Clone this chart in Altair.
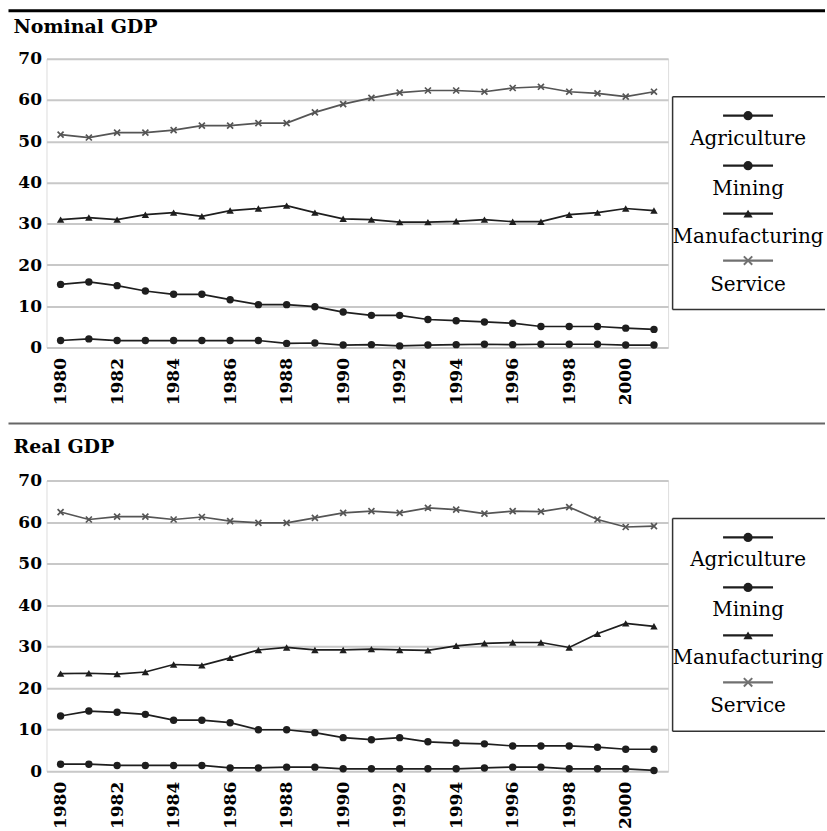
import altair as alt
import pandas as pd

# ---- data: sector shares of GDP (%) ----
years = list(range(1980, 2002))
sectors = ["Agriculture", "Mining", "Manufacturing", "Service"]

nominal_agriculture = [15.3, 15.9, 15.0, 13.7, 12.9, 12.9, 11.6, 10.4, 10.4, 9.9, 8.6,
                       7.8, 7.8, 6.8, 6.5, 6.2, 5.9, 5.1, 5.1, 5.1, 4.7, 4.4]
nominal_mining = [1.7, 2.1, 1.7, 1.7, 1.7, 1.7, 1.7, 1.7, 1.0, 1.1, 0.6,
                  0.7, 0.4, 0.6, 0.7, 0.8, 0.7, 0.8, 0.8, 0.8, 0.6, 0.6]
nominal_manufacturing = [31.0, 31.5, 31.0, 32.2, 32.7, 31.8, 33.2, 33.7, 34.4, 32.7, 31.2,
                         31.0, 30.4, 30.4, 30.6, 31.0, 30.5, 30.5, 32.2, 32.7, 33.7, 33.2]
nominal_service = [51.6, 50.9, 52.1, 52.1, 52.7, 53.8, 53.8, 54.4, 54.4, 57.0, 59.0,
                   60.5, 61.8, 62.3, 62.3, 62.0, 62.9, 63.2, 62.0, 61.6, 60.8, 62.0]

real_agriculture = [13.3, 14.5, 14.2, 13.7, 12.3, 12.3, 11.7, 10.0, 10.0, 9.3, 8.1,
                    7.6, 8.1, 7.1, 6.8, 6.6, 6.1, 6.1, 6.1, 5.8, 5.3, 5.3]
real_mining = [1.7, 1.7, 1.4, 1.4, 1.4, 1.4, 0.8, 0.8, 1.0, 1.0, 0.6,
               0.6, 0.6, 0.6, 0.6, 0.8, 1.0, 1.0, 0.6, 0.6, 0.6, 0.2]
real_manufacturing = [23.5, 23.6, 23.4, 23.9, 25.7, 25.5, 27.3, 29.2, 29.8, 29.2, 29.2,
                      29.4, 29.2, 29.1, 30.2, 30.8, 31.0, 31.0, 29.8, 33.1, 35.6, 34.9]
real_service = [62.4, 60.6, 61.3, 61.3, 60.6, 61.2, 60.2, 59.8, 59.8, 61.0, 62.2,
                62.6, 62.2, 63.4, 63.0, 62.0, 62.6, 62.5, 63.6, 60.6, 58.8, 59.0]

label_years = [y for y in years if y % 2 == 0]

# ---- styling ----
SERIF = "DejaVu Serif"
line_colors = ["#1e1e1e", "#1e1e1e", "#1e1e1e", "#555555"]
cross = "M-1,-1L1,1M-1,1L1,-1"

# legend slots (pixels, relative to each plot area)
LEG_X = 702
SYM_Y = [57, 107, 155, 202]
TXT_Y = [86, 136, 184, 232]

PLOT_W = 622


def long_frame(series):
    rows = []
    for sector, vals in zip(sectors, series):
        for yr, v in zip(years, vals):
            rows.append({"year": yr, "sector": sector, "share": v})
    return pd.DataFrame(rows)


def panel(title, series, height, header_rule):
    df = long_frame(series)
    base = alt.Chart(df)

    x = alt.X(
        "year:O",
        scale=alt.Scale(type="point", padding=0.5),
        axis=alt.Axis(
            title=None, values=label_years, labelAngle=-90, labelFont=SERIF,
            labelFontWeight="bold", labelFontSize=17, labelColor="black",
            labelPadding=10, ticks=False, domain=False, grid=False,
        ),
    )
    y = alt.Y(
        "share:Q",
        scale=alt.Scale(domain=[0, 70], nice=False),
        axis=alt.Axis(
            title=None, values=list(range(0, 71, 10)), labelFont=SERIF,
            labelFontWeight="bold", labelFontSize=17, labelColor="black",
            labelPadding=5, ticks=False, domain=False, gridColor="#c8c8c8",
            gridWidth=2,
        ),
    )
    color = alt.Color("sector:N", scale=alt.Scale(domain=sectors, range=line_colors), legend=None)

    lines = base.mark_line(strokeWidth=1.7).encode(x=x, y=y, color=color)
    filled_pts = base.transform_filter(alt.datum.sector != "Service").mark_point(
        filled=True, opacity=1, size=55
    ).encode(
        x=x, y=y, color=color,
        shape=alt.Shape("sector:N", scale=alt.Scale(domain=sectors[:3], range=["circle", "circle", "triangle-up"]), legend=None),
    )
    cross_pts = base.transform_filter(alt.datum.sector == "Service").mark_point(
        shape=cross, filled=False, size=36, strokeWidth=1.7, color="#555555", opacity=1
    ).encode(x=x, y=y)

    layers = [lines, filled_pts, cross_pts]

    # heading rule and title text
    one = pd.DataFrame({"t": [title]})
    layers.append(alt.Chart(one).mark_rule(color=header_rule[0], strokeWidth=header_rule[1]).encode(
        x=alt.value(-38), x2=alt.value(779), y=alt.value(header_rule[2])))
    layers.append(alt.Chart(one).mark_text(
        font=SERIF, fontWeight="bold", fontSize=19, align="left", baseline="alphabetic", color="black"
    ).encode(x=alt.value(-33), y=alt.value(header_rule[3]), text="t:N"))

    # legend box (open on the right edge)
    layers.append(alt.Chart(one).mark_rule(color="#333333", strokeWidth=1.5).encode(
        x=alt.value(626.5), y=alt.value(38), y2=alt.value(251)))
    for yy in (38, 251):
        layers.append(alt.Chart(one).mark_rule(color="#333333", strokeWidth=1.5).encode(
            x=alt.value(626.5), x2=alt.value(779), y=alt.value(yy)))

    shapes = ["circle", "circle", "triangle-up", cross]
    for i, s in enumerate(sectors):
        d = pd.DataFrame({"sector": [s]})
        col = line_colors[i] if i < 3 else "#707070"
        layers.append(alt.Chart(d).mark_rule(color=col, strokeWidth=2.2).encode(
            x=alt.value(LEG_X - 25), x2=alt.value(LEG_X + 25), y=alt.value(SYM_Y[i])))
        if i < 3:
            layers.append(alt.Chart(d).mark_point(shape=shapes[i], filled=True, size=85, color=col, opacity=1).encode(
                x=alt.value(LEG_X), y=alt.value(SYM_Y[i])))
        else:
            layers.append(alt.Chart(d).mark_point(shape=cross, filled=False, size=70, strokeWidth=2,
                                                  color=col, opacity=1).encode(
                x=alt.value(LEG_X), y=alt.value(SYM_Y[i])))
        layers.append(alt.Chart(d).mark_text(
            font=SERIF, fontSize=20, align="center", baseline="alphabetic", color="black"
        ).encode(x=alt.value(LEG_X), y=alt.value(TXT_Y[i]), text="sector:N"))

    return alt.layer(*layers).properties(width=PLOT_W, height=height)


top = panel("Nominal GDP",
            [nominal_agriculture, nominal_mining, nominal_manufacturing, nominal_service],
            289, ("black", 3, -48, -26))
bottom = panel("Real GDP",
               [real_agriculture, real_mining, real_manufacturing, real_service],
               291, ("#666666", 2, -57, -27))

chart = alt.vconcat(top, bottom, spacing=133, bounds="flush").properties(
    padding={"left": 6.5, "top": 8.5, "right": 0, "bottom": 0}
).configure_view(
    stroke="#b4b4b4", strokeWidth=2
).configure(background="white")

chart.save("out.html", embed_options={"renderer": "svg", "actions": False})
